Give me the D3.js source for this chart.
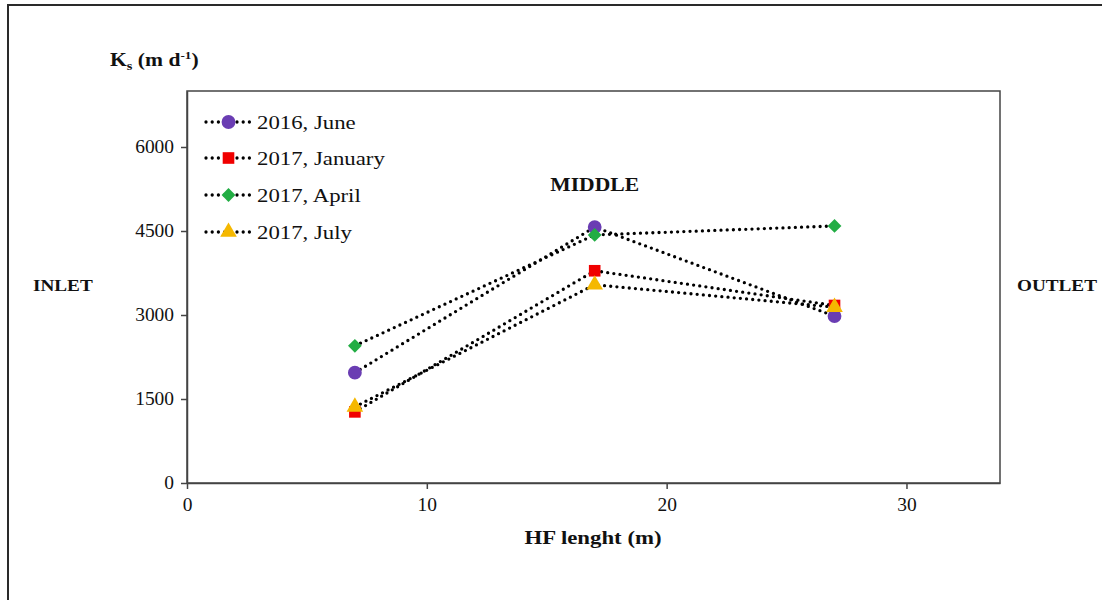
<!DOCTYPE html>
<html>
<head>
<meta charset="utf-8">
<script src="https://cdn.jsdelivr.net/npm/d3@7"></script>
<style>
  html, body { margin: 0; padding: 0; background: #fff; }
  svg { display: block; font-family: "Liberation Serif", "Times New Roman", serif; }
  /* Labels use a slightly widened serif face */
  .wide { transform-box: fill-box; transform: scaleX(1.2); }
  .wide.tick-label { transform: scaleX(1.08); }
  .wide.start { transform-origin: left center; }
  .wide.mid { transform-origin: center center; }
  .wide.end { transform-origin: right center; }
</style>
</head>
<body>
<svg id="chart" width="1102" height="600"></svg>
<script>
// Sampling positions along the horizontal flow filter (m)
const positions = [7, 17, 27];

// Saturated hydraulic conductivity Ks (m/d) per campaign
const june2016 = [1970, 4570, 2980];
const january2017 = [1270, 3790, 3170];
const april2017 = [2450, 4430, 4590];
const july2017 = [1360, 3540, 3140];

const seriesNames = ["2016, June", "2017, January", "2017, April", "2017, July"];
const xTicks = [0, 10, 20, 30];
const yTicks = [0, 1500, 3000, 4500, 6000];

const series = [
  { name: seriesNames[0], values: june2016, symbol: d3.symbolCircle, size: 150, rotate: 0, color: "#6a3db3" },
  { name: seriesNames[1], values: january2017, symbol: d3.symbolSquare, size: 135, rotate: 0, color: "#f00000" },
  { name: seriesNames[2], values: april2017, symbol: d3.symbolSquare, size: 95, rotate: 45, color: "#22ad44" },
  { name: seriesNames[3], values: july2017, symbol: d3.symbolTriangle, size: 120, rotate: 0, color: "#f5b800" }
];

const svg = d3.select("#chart");
const plot = { left: 187, top: 91, right: 1000, bottom: 483 };

const x = d3.scaleLinear().domain([0, 33.9]).range([plot.left, plot.right]);
const y = d3.scaleLinear().domain([0, 7000]).range([plot.bottom, plot.top]);

// Outer frame (left and top edges)
svg.append("path")
  .attr("d", `M8,600 L8,5 L1102,5`)
  .attr("fill", "none").attr("stroke", "#2a2a2a").attr("stroke-width", 2);

// Plot area box
svg.append("rect")
  .attr("x", plot.left).attr("y", plot.top)
  .attr("width", plot.right - plot.left).attr("height", plot.bottom - plot.top)
  .attr("fill", "none").attr("stroke", "#444").attr("stroke-width", 1.5);

// Axes
const xAxis = svg.append("g")
  .attr("transform", `translate(0,${plot.bottom})`)
  .call(d3.axisBottom(x).tickValues(xTicks).tickSizeInner(6).tickSizeOuter(0).tickPadding(9).tickFormat(d3.format("d")));
const yAxis = svg.append("g")
  .attr("transform", `translate(${plot.left},0)`)
  .call(d3.axisLeft(y).tickValues(yTicks).tickSizeInner(6).tickSizeOuter(0).tickPadding(7).tickFormat(d3.format("d")));

[xAxis, yAxis].forEach(g => {
  g.select(".domain").attr("stroke", "#444").attr("stroke-width", 1.5);
  g.selectAll(".tick line").attr("stroke", "#444").attr("stroke-width", 1.5);
  g.selectAll(".tick text")
    .attr("fill", "#111")
    .style("font-family", "Liberation Serif, serif")
    .style("font-size", "18px");
});
xAxis.selectAll(".tick text").attr("class", "wide tick-label mid");
yAxis.selectAll(".tick text").attr("class", "wide tick-label end");

// Dotted connecting lines
const line = d3.line()
  .x((d, i) => x(positions[i]))
  .y(d => y(d));

const lines = svg.append("g");
series.forEach(s => {
  lines.append("path")
    .datum(s.values)
    .attr("d", line)
    .attr("fill", "none")
    .attr("stroke", "#000")
    .attr("stroke-width", 3.3)
    .attr("stroke-linecap", "round")
    .attr("stroke-dasharray", "0,6.2");
});

// Markers
const markers = svg.append("g");
series.forEach(s => {
  markers.selectAll(null)
    .data(s.values)
    .join("path")
    .attr("d", d3.symbol().type(s.symbol).size(s.size))
    .attr("transform", (d, i) => `translate(${x(positions[i])},${y(d)}) rotate(${s.rotate})`)
    .attr("fill", s.color);
});

// Legend
const legend = svg.append("g");
const legendRows = [122, 158, 195, 232];
series.forEach((s, i) => {
  const row = legend.append("g").attr("transform", `translate(0,${legendRows[i]})`);
  row.append("line")
    .attr("x1", 206).attr("x2", 251).attr("y1", 0).attr("y2", 0)
    .attr("stroke", "#000").attr("stroke-width", 3.3)
    .attr("stroke-linecap", "round").attr("stroke-dasharray", "0,6.2");
  row.append("path")
    .attr("d", d3.symbol().type(s.symbol).size(s.size))
    .attr("transform", `translate(228.5,0) rotate(${s.rotate})`)
    .attr("fill", s.color);
  row.append("text")
    .attr("class", "wide start")
    .attr("x", 257).attr("y", 6.5)
    .attr("fill", "#111")
    .style("font-size", "19px")
    .text(s.name);
});

// Titles and annotations
const yTitle = svg.append("text")
  .attr("class", "wide start")
  .attr("x", 110).attr("y", 66)
  .attr("fill", "#111")
  .style("font-size", "18px").style("font-weight", "bold");
yTitle.append("tspan").text("K");
yTitle.append("tspan").attr("dy", 4).style("font-size", "12px").text("s");
yTitle.append("tspan").attr("dy", -4).text(" (m d");
yTitle.append("tspan").attr("dy", -7).style("font-size", "11px").text("-1");
yTitle.append("tspan").attr("dy", 7).text(")");

svg.append("text")
  .attr("class", "wide mid")
  .attr("x", 593).attr("y", 544)
  .attr("text-anchor", "middle")
  .attr("fill", "#111")
  .style("font-size", "19px").style("font-weight", "bold")
  .text("HF lenght (m)");

svg.append("text")
  .attr("class", "wide mid")
  .attr("x", x(17)).attr("y", 191)
  .attr("text-anchor", "middle")
  .attr("fill", "#111")
  .style("font-size", "18px").style("font-weight", "bold")
  .text("MIDDLE");

svg.append("text")
  .attr("class", "wide start")
  .attr("x", 33).attr("y", 291)
  .attr("fill", "#111")
  .style("font-size", "16px").style("font-weight", "bold")
  .text("INLET");

svg.append("text")
  .attr("class", "wide start")
  .attr("x", 1017).attr("y", 291)
  .attr("fill", "#111")
  .style("font-size", "16px").style("font-weight", "bold")
  .text("OUTLET");
</script>
</body>
</html>
